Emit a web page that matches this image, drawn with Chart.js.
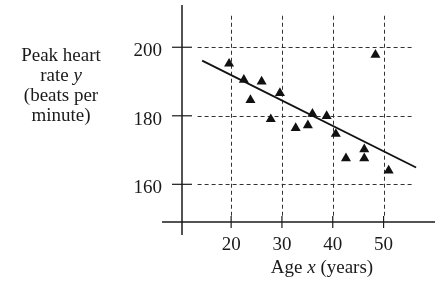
<!DOCTYPE html>
<html>
<head>
<meta charset="utf-8">
<script src="https://cdn.jsdelivr.net/npm/chart.js@4.4.1/dist/chart.umd.min.js"></script>
<style>
  * { margin: 0; padding: 0; }
  body { background: #fff; width: 435px; height: 284px; overflow: hidden; }
  #wrap { position: relative; width: 435px; height: 284px; }
</style>
</head>
<body>
<div id="wrap"><canvas id="chart"></canvas></div>
<script>
// observed points: age (years) vs peak heart rate (beats per minute)
const ages = [19.6, 22.5, 23.8, 26.0, 27.8, 29.6, 32.7, 35.1, 36.0, 38.8, 40.6, 42.6, 46.2, 46.2, 48.4, 51.0];
const heartRates = [195.2, 190.5, 184.6, 190.0, 179.0, 186.6, 176.4, 177.2, 180.6, 179.9, 174.7, 167.6, 170.2, 167.6, 197.8, 164.0];
// fitted line end points
const fitAges = [14.3, 56.4];
const fitRates = [196.1, 164.9];
const xTicks = [20, 30, 40, 50];
const yTicks = [160, 180, 200];

const FONT = '19px "Liberation Serif"';
const IFONT = 'italic 19px "Liberation Serif"';
const INK = '#1a1a1a';

// draw a line of text made of plain / italic pieces, centred on cx
function mixedText(ctx, parts, cx, cy) {
  let w = 0;
  parts.forEach(p => { ctx.font = p[1] ? IFONT : FONT; w += ctx.measureText(p[0]).width; });
  let x = cx - w / 2;
  ctx.textAlign = 'left';
  parts.forEach(p => {
    ctx.font = p[1] ? IFONT : FONT;
    ctx.fillText(p[0], x, cy);
    x += ctx.measureText(p[0]).width;
  });
}

function seg(ctx, x1, y1, x2, y2) {
  ctx.beginPath();
  ctx.moveTo(x1, y1);
  ctx.lineTo(x2, y2);
  ctx.stroke();
}

const frame = {
  id: 'frame',
  beforeDatasetsDraw(chart) {
    const { ctx, chartArea: a, scales: { x, y } } = chart;
    ctx.save();
    ctx.lineWidth = 1;
    ctx.setLineDash([4, 3]);
    ctx.strokeStyle = '#333';
    yTicks.forEach(v => {
      const py = Math.round(y.getPixelForValue(v)) + 0.5;
      seg(ctx, x.getPixelForValue(13.4), py, x.getPixelForValue(55.7), py);
    });
    xTicks.forEach(v => {
      const px = Math.round(x.getPixelForValue(v)) + 0.5;
      seg(ctx, px, y.getPixelForValue(209.2), px, a.bottom - 5);
    });
    ctx.restore();
  },
  afterDatasetsDraw(chart) {
    const { ctx, chartArea: a, scales: { x, y } } = chart;
    ctx.save();
    ctx.strokeStyle = INK;
    ctx.lineWidth = 1.5;
    // axes
    seg(ctx, a.left, 5, a.left, 235);
    seg(ctx, 162, a.bottom, 435, a.bottom);
    ctx.lineWidth = 1.2;
    yTicks.forEach(v => {
      const py = y.getPixelForValue(v);
      seg(ctx, a.left - 10, py, a.left + 10, py);
    });
    xTicks.forEach(v => {
      const px = x.getPixelForValue(v);
      seg(ctx, px, a.bottom - 6, px, a.bottom + 6);
    });
    // tick labels
    ctx.fillStyle = INK;
    ctx.font = FONT;
    ctx.textBaseline = 'middle';
    ctx.textAlign = 'right';
    yTicks.forEach(v => ctx.fillText(String(v), 162, y.getPixelForValue(v) + 4));
    ctx.textAlign = 'center';
    xTicks.forEach(v => ctx.fillText(String(v), x.getPixelForValue(v), 245));
    // axis titles
    mixedText(ctx, [['Age ', false], ['x', true], [' (years)', false]], 322, 268);
    mixedText(ctx, [['Peak heart', false]], 61, 56);
    mixedText(ctx, [['rate ', false], ['y', true]], 61, 76);
    mixedText(ctx, [['(beats per', false]], 61, 96);
    mixedText(ctx, [['minute)', false]], 61, 116);
    ctx.restore();
  }
};

new Chart(document.getElementById('chart'), {
  data: {
    datasets: [
      {
        type: 'scatter',
        data: ages.map((a, i) => ({ x: a, y: heartRates[i] })),
        pointStyle: 'triangle',
        pointRadius: 5.8,
        backgroundColor: '#111',
        borderWidth: 0
      },
      {
        type: 'line',
        data: fitAges.map((a, i) => ({ x: a, y: fitRates[i] })),
        borderColor: '#111',
        borderWidth: 1.8,
        pointRadius: 0
      }
    ]
  },
  options: {
    responsive: true,
    maintainAspectRatio: false,
    animation: false,
    layout: { padding: { left: 182, top: 5, right: 0, bottom: 62 } },
    plugins: { legend: { display: false }, tooltip: { enabled: false } },
    scales: {
      x: { type: 'linear', min: 10.33, max: 58.98, display: false },
      y: { type: 'linear', min: 149, max: 212.1, display: false }
    }
  },
  plugins: [frame]
});
</script>
</body>
</html>
